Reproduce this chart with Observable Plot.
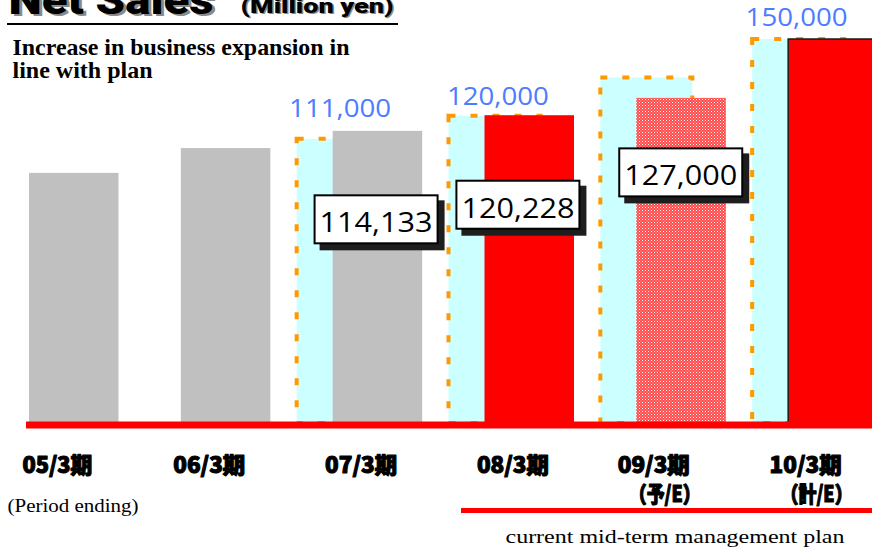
<!DOCTYPE html>
<html>
<head>
<meta charset="utf-8">
<script src="https://cdn.jsdelivr.net/npm/d3@7"></script>
<script src="https://cdn.jsdelivr.net/npm/@observablehq/plot@0.6"></script>
<style>
  html, body { margin: 0; padding: 0; background: #fff; overflow: hidden; }
  #wrap { position: relative; width: 872px; height: 550px; overflow: hidden; }
  .line { position: absolute; }
</style>
</head>
<body>
<div id="wrap"></div>
<script>
// ---------- data ----------
const periods = ["05/3期", "06/3期", "07/3期", "08/3期", "09/3期", "10/3期"];
const periodNotes = ["", "", "", "", "（予/E）", "（計/E）"];
const netSales = [97700, 107400, 114133, 120228, 127000, 150000];
const salesKind = ["past", "past", "past", "actual", "forecast", "target"];
const boxedLabels = ["", "", "114,133", "120,228", "127,000", ""];

const planPeriods = ["07/3期", "08/3期", "09/3期", "10/3期"];
const planSales = [111000, 120000, 135000, 150000];
const planLabels = ["111,000", "120,000", "", "150,000"];

const titleText = "Net Sales";
const unitText = "(Million yen)";
const subtitleLines = ["Increase in business expansion in", "line with plan"];
const periodCaption = "(Period ending)";
const planCaption = "current mid-term management plan";

// ---------- tables ----------
const sales = periods.map((p, i) => ({period: p, value: netSales[i], kind: salesKind[i], note: periodNotes[i], label: boxedLabels[i]}));
const plan = planPeriods.map((p, i) => ({period: p, value: planSales[i], label: planLabels[i]}));

// ---------- styling ----------
const W = 872, H = 550;
const xRange = [-7, 904];
const bw = (xRange[1] - xRange[0]) / periods.length;
const planInset = {insetLeft: 0, insetRight: bw - 92};
const barInset = {insetLeft: 36, insetRight: bw - 125.5};
const planLabelOffset = {"07/3期": [-33, -22], "08/3期": [-27, -11], "10/3期": [-32, -14]};
const boxLabelOffset = {"07/3期": [3, 101], "08/3期": [-7, 102], "09/3期": [4, 87]};
const textWidths = {
  "Net Sales": 205, "(Million yen)": 153,
  "Increase in business expansion in": 337, "line with plan": 140,
  "(Period ending)": 131, "current mid-term management plan": 339,
  "111,000": 102, "120,000": 102, "150,000": 102,
  "114,133": 113, "120,228": 113, "127,000": 113,
  "（予/E）": 72, "（計/E）": 72,
  "05/3期": 70, "06/3期": 72, "07/3期": 72, "08/3期": 72, "09/3期": 72, "10/3期": 72
};
const serif = "'Liberation Serif', 'DejaVu Serif', serif";
const numFont = "'Open Sans', 'DejaVu Sans', sans-serif";
const heavy = "Roboto, 'Noto Sans', sans-serif";
const cjkHeavy = "'Noto Sans CJK JP', 'Noto Sans', sans-serif";
const catStyle = {fontSize: 22, fontWeight: 900, fontFamily: cjkHeavy, fill: "#000", stroke: "#000", strokeWidth: 1.1};

const marks = [
  // plan bars (cyan with dashed orange outline)
  Plot.barY(plan, {x: "period", y: "value", fill: "#ccffff", ...planInset}),
  Plot.barY(plan, {x: "period", y: "value", fill: "none", stroke: "#ff9900", strokeWidth: 4, strokeDasharray: "7,15", ...planInset}),
  // actual / forecast bars
  Plot.barY(sales.filter(d => d.kind === "past"), {x: "period", y: "value", fill: "#c0c0c0", ...barInset}),
  Plot.barY(sales.filter(d => d.kind === "actual"), {x: "period", y: "value", fill: "#ff0000", ...barInset}),
  Plot.barY(sales.filter(d => d.kind === "forecast"), {x: "period", y: "value", fill: "url(#hatch)", ...barInset}),
  Plot.barY(sales.filter(d => d.kind === "target"), {x: "period", y: "value", fill: "#ff0000", stroke: "#1a1a1a", strokeWidth: 1.5, ...barInset}),
  // base line
  Plot.ruleY([0], {stroke: "#ff0000", strokeWidth: 7, dy: 1.5}),
  // plan value labels
  ...plan.filter(d => d.label).map(d => Plot.text([d], {
    x: "period", y: "value", text: "label", fill: "#4d7cff", fontSize: 25, fontFamily: numFont,
    lineAnchor: "bottom", textAnchor: "middle", dx: planLabelOffset[d.period][0], dy: planLabelOffset[d.period][1]
  })),
  // boxed value labels
  ...sales.filter(d => d.label).map(d => Plot.text([d], {
    x: "period", y: "value", text: "label", fill: "#010101", fontSize: 28, fontFamily: numFont,
    lineAnchor: "bottom", textAnchor: "middle", dx: boxLabelOffset[d.period][0], dy: boxLabelOffset[d.period][1]
  })),
  // category labels
  Plot.text(sales.filter(d => !d.note), {x: "period", text: "period", frameAnchor: "bottom", lineAnchor: "bottom", dy: -78, dx: -12, ...catStyle}),
  Plot.text(sales.filter(d => d.note), {x: "period", text: "period", frameAnchor: "bottom", lineAnchor: "bottom", dy: -78, dx: -23, ...catStyle}),
  Plot.text(sales.filter(d => d.note), {x: "period", text: "note", frameAnchor: "bottom", lineAnchor: "bottom", dy: -49, dx: -12, ...catStyle}),
  // title & annotations (frame top-left is at x=26, y=0)
  Plot.text([titleText], {frameAnchor: "top-left", textAnchor: "start", lineAnchor: "bottom", dx: 8 - 26 + 3, dy: 15,
    fontSize: 40, fontWeight: 900, fontFamily: heavy, fill: "#8a8a8a"}),
  Plot.text([titleText], {frameAnchor: "top-left", textAnchor: "start", lineAnchor: "bottom", dx: 8 - 26, dy: 13,
    fontSize: 40, fontWeight: 900, fontFamily: heavy, fill: "#000"}),
  Plot.text([unitText], {frameAnchor: "top-left", textAnchor: "start", lineAnchor: "bottom", dx: 240 - 26 + 1.5, dy: 13.5,
    fontSize: 21, fontWeight: 900, fontFamily: heavy, fill: "#8a8a8a"}),
  Plot.text([unitText], {frameAnchor: "top-left", textAnchor: "start", lineAnchor: "bottom", dx: 240 - 26, dy: 12,
    fontSize: 21, fontWeight: 900, fontFamily: heavy, fill: "#000"}),
  Plot.text([subtitleLines[0]], {frameAnchor: "top-left", textAnchor: "start", lineAnchor: "bottom", dx: 12 - 26, dy: 54,
    fontSize: 22.5, fontWeight: "bold", fontFamily: serif, fill: "#000"}),
  Plot.text([subtitleLines[1]], {frameAnchor: "top-left", textAnchor: "start", lineAnchor: "bottom", dx: 12 - 26, dy: 77,
    fontSize: 22.5, fontWeight: "bold", fontFamily: serif, fill: "#000"}),
  Plot.text([periodCaption], {frameAnchor: "top-left", textAnchor: "start", lineAnchor: "bottom", dx: 7 - 26, dy: 511,
    fontSize: 19, fontFamily: serif, fill: "#000"}),
  Plot.text([planCaption], {frameAnchor: "top-left", textAnchor: "start", lineAnchor: "bottom", dx: 505 - 26, dy: 542,
    fontSize: 19, fontFamily: serif, fill: "#000"})
];

const chart = Plot.plot({
  width: W, height: H,
  marginLeft: 26, marginRight: 0, marginTop: 0, marginBottom: 0,
  x: {type: "band", domain: periods, range: xRange, padding: 0, round: false, axis: null},
  y: {domain: [0, 150000], range: [423, 39], axis: null},
  style: {background: "transparent", overflow: "hidden", fontFamily: numFont},
  marks
});

const wrap = document.getElementById("wrap");
wrap.appendChild(chart);

// hatch pattern for forecast bar (fine red / white checker)
const ns = "http://www.w3.org/2000/svg";
function el(name, attrs) {
  const e = document.createElementNS(ns, name);
  for (const k in attrs) e.setAttribute(k, attrs[k]);
  return e;
}
const defs = el("defs", {});
const pat = el("pattern", {id: "hatch", width: 3, height: 3, patternUnits: "userSpaceOnUse"});
pat.appendChild(el("rect", {x: 0, y: 0, width: 3, height: 3, fill: "#ff4a4a"}));
pat.appendChild(el("rect", {x: 0, y: 0, width: 1, height: 1, fill: "#ffffff"}));
pat.appendChild(el("rect", {x: 1.5, y: 1.5, width: 1, height: 1, fill: "#ffc4c4"}));
defs.appendChild(pat);
chart.insertBefore(defs, chart.firstChild);

// stretch texts to measured widths
chart.querySelectorAll("text").forEach(t => {
  const w = textWidths[t.textContent];
  if (w) { t.setAttribute("textLength", w); t.setAttribute("lengthAdjust", "spacingAndGlyphs"); }
});

// boxes with drop shadow behind boxed value labels
chart.querySelectorAll('g[fill="#010101"] text').forEach(t => {
  const w = (textWidths[t.textContent] || t.getComputedTextLength()) + 12;
  const tr = t.getAttribute("transform") || "";
  const shadow = el("rect", {x: -w / 2 + 6, y: -38 + 6, width: w, height: 50, fill: "#1e1e1e", stroke: "none", transform: tr});
  const box = el("rect", {x: -w / 2 + 1, y: -38 + 1, width: w - 2, height: 48, fill: "#ffffff", stroke: "#000", "stroke-width": 2, transform: tr});
  t.parentNode.insertBefore(shadow, t);
  t.parentNode.insertBefore(box, t);
});

// decorative rules
function addLine(left, top, width, height, color) {
  const d = document.createElement("div");
  d.className = "line";
  Object.assign(d.style, {left: left + "px", top: top + "px", width: width + "px", height: height + "px", background: color});
  wrap.appendChild(d);
}
addLine(7, 23, 391, 2, "#000");
addLine(461, 508, 411, 5, "#ff0000");
</script>
</body>
</html>
